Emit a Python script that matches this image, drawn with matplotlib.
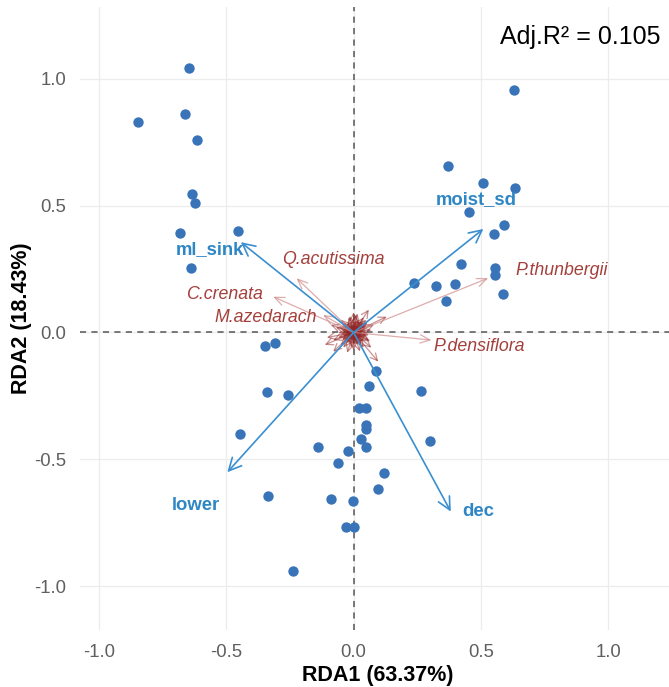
import matplotlib
matplotlib.use("Agg")
import matplotlib.pyplot as plt

plt.rcParams['font.family'] = ['Liberation Sans', 'DejaVu Sans']

# ---- site scores ----
site_x = [-0.647, -0.848, -0.664, -0.617, -0.635, -0.622, -0.683, -0.456, -0.637,
          0.629, 0.371, 0.510, 0.634, 0.453, 0.591, 0.550, 0.421, 0.555, 0.555,
          0.236, 0.323, 0.397, 0.365, 0.587, -0.349, -0.309,
          0.087, 0.062, 0.266, -0.339, -0.257, 0.022, 0.047, 0.050, 0.050, -0.446,
          0.300, 0.030, -0.139, 0.050, -0.020, -0.062, 0.119, 0.097, -0.336, -0.087,
          -0.002, -0.030, 0.003, -0.239]
site_y = [1.041, 0.830, 0.862, 0.758, 0.547, 0.510, 0.393, 0.399, 0.254,
          0.955, 0.656, 0.589, 0.568, 0.475, 0.424, 0.387, 0.269, 0.255, 0.228,
          0.196, 0.183, 0.192, 0.124, 0.152, -0.053, -0.041,
          -0.153, -0.211, -0.231, -0.236, -0.245, -0.299, -0.299, -0.363, -0.382, -0.401,
          -0.426, -0.421, -0.452, -0.452, -0.467, -0.514, -0.555, -0.617, -0.643, -0.657,
          -0.663, -0.766, -0.766, -0.941]

# ---- environmental vectors ----
env_names = ['ml_sink', 'moist_sd', 'lower', 'dec']
env_x = [-0.443, 0.510, -0.496, 0.382]
env_y = [0.356, 0.408, -0.551, -0.706]
env_lab_x = [-0.563, 0.483, -0.618, 0.488]
env_lab_y = [0.328, 0.522, -0.683, -0.704]

# ---- named species vectors ----
sp_names = ['Q.acutissima', 'C.crenata', 'M.azedarach', 'P.thunbergii', 'P.densiflora']
sp_x = [-0.224, -0.316, -0.120, 0.529, 0.306]
sp_y = [0.214, 0.141, 0.069, 0.214, -0.030]
sp_lab_x = [-0.078, -0.506, -0.347, 0.818, 0.493]
sp_lab_y = [0.286, 0.148, 0.058, 0.244, -0.056]

# ---- other (unlabelled) species vectors ----
sp_other_x = [0.130, 0.097, -0.113, -0.080, -0.090, 0.060, -0.105, 0.070,
              0.05, 0.03, -0.04, -0.06, 0.06, -0.02, 0.02, 0.04, -0.05, 0.07,
              -0.03, 0.01, -0.07, 0.05, 0.00, -0.01, 0.03, -0.05, 0.06, -0.04,
              0.02, 0.08, -0.06, 0.04, -0.02, 0.03, -0.08, 0.01, 0.045, -0.035,
              0.015, -0.015, 0.055, -0.055, 0.025, -0.025, 0.0, 0.035, -0.045, 0.065]
sp_other_y = [0.062, -0.115, -0.049, -0.076, 0.030, 0.090, -0.020, -0.060,
              0.03, -0.05, 0.04, -0.02, -0.03, 0.06, 0.05, -0.06, -0.05, 0.01,
              -0.04, 0.07, 0.02, 0.05, -0.07, -0.06, 0.02, 0.05, -0.01, -0.06,
              -0.04, 0.03, 0.00, 0.06, 0.03, -0.02, -0.03, -0.03, -0.015, 0.015,
              0.075, 0.065, 0.040, 0.020, -0.075, -0.080, 0.080, 0.045, -0.030, -0.035]

r2_text = 'Adj.R² = 0.105'
x_title = 'RDA1 (63.37%)'
y_title = 'RDA2 (18.43%)'
ticks = [-1.0, -0.5, 0.0, 0.5, 1.0]

W, H = 669, 687
fig = plt.figure(figsize=(W / 100, H / 100), dpi=100)
left, right, top, bottom = 80, 676, 7, 630
ax = fig.add_axes([left / W, (H - bottom) / H, (right - left) / W, (bottom - top) / H])
ax.set_xlim(-1.075, 1.267)
ax.set_ylim(-1.173, 1.283)

for s in ax.spines.values():
    s.set_visible(False)
ax.set_xticks(ticks)
ax.set_yticks(ticks)
ax.set_xticklabels([f'{t:.1f}' for t in ticks])
ax.set_yticklabels([f'{t:.1f}' for t in ticks])
ax.tick_params(length=0, labelsize=13.3, colors='#5f5f5f', pad=10)
ax.grid(True, color='#ececec', lw=0.9)
ax.set_axisbelow(True)

ax.axhline(0, color='#555555', lw=1.1, ls=(0, (4, 3.5)), zorder=1)
ax.axvline(0, color='#555555', lw=1.1, ls=(0, (4, 3.5)), zorder=1)

# central dark blob
ax.scatter([0], [0], s=260, color='#8b2323', alpha=0.6, lw=0, zorder=2)
ax.scatter([0], [0], s=110, color='#7e1f1f', alpha=0.8, lw=0, zorder=2)

# unlabelled species arrows
for x, y in zip(sp_other_x, sp_other_y):
    ax.annotate('', xy=(x, y), xytext=(0, 0),
                arrowprops=dict(arrowstyle='->,head_length=0.5,head_width=0.25',
                                color='#962828', alpha=0.5, lw=0.9,
                                shrinkA=0, shrinkB=0), zorder=2)

# named species arrows
for x, y in zip(sp_x, sp_y):
    ax.annotate('', xy=(x, y), xytext=(0, 0),
                arrowprops=dict(arrowstyle='->,head_length=0.7,head_width=0.3',
                                color='#d08a8a', alpha=0.7, lw=0.9,
                                shrinkA=0, shrinkB=0), zorder=2)
for n, x, y in zip(sp_names, sp_lab_x, sp_lab_y):
    ax.text(x, y, n, color='#a4403c', fontsize=12.8, style='italic',
            ha='center', va='center', zorder=4)

# sites
ax.scatter(site_x, site_y, s=56, color='#3a74b8', lw=0, zorder=3)

# env arrows
for x, y in zip(env_x, env_y):
    ax.annotate('', xy=(x, y), xytext=(0, 0),
                arrowprops=dict(arrowstyle='->,head_length=0.9,head_width=0.45',
                                color='#3a8fd0', lw=1.2,
                                shrinkA=0, shrinkB=0), zorder=4)
for n, x, y in zip(env_names, env_lab_x, env_lab_y):
    ax.text(x, y, n, color='#2e86c4', fontsize=13.3, fontweight='bold',
            ha='center', va='center', zorder=5)

ax.text(661, 687 - 37, r2_text, transform=None, fontsize=18, color='black',
        ha='right', va='center')

fig.text(378 / W, 1 - 675 / H, x_title, fontsize=15.5, fontweight='bold',
         ha='center', va='center')
fig.text(22 / W, 1 - 318 / H, y_title, fontsize=15.5, fontweight='bold',
         ha='center', va='center', rotation=90)

fig.savefig('out.png', dpi=100)
